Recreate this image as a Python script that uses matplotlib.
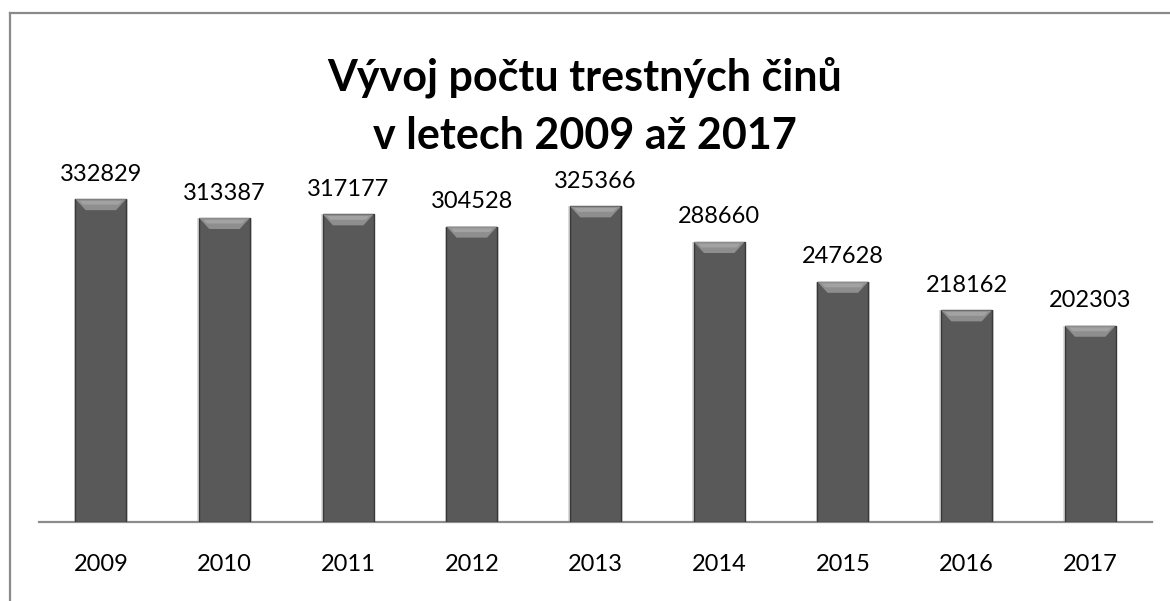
import matplotlib.pyplot as plt
from matplotlib.lines import Line2D
from matplotlib.patches import Polygon

# data
years = ['2009', '2010', '2011', '2012', '2013', '2014', '2015', '2016', '2017']
crimes = [332829, 313387, 317177, 304528, 325366, 288660, 247628, 218162, 202303]

plt.rcParams['font.family'] = ['Lato', 'DejaVu Sans']

fig = plt.figure(figsize=(11.7, 6.01), dpi=100)
ax = fig.add_axes([39 / 1170, 1 - 522 / 601, (1152 - 39) / 1170, (522 - 150) / 601])

x = range(len(years))
bars = ax.bar(x, crimes, width=0.41, color='#595959', edgecolor='#383838',
              linewidth=1.0, zorder=3)

ymax = 383500
ax.set_ylim(0, ymax)
ax.set_xlim(-0.5, len(years) - 0.5)

# bevel on top of each bar, sized in pixels
px = ymax / (522 - 150)
for b in bars:
    x0, w, h = b.get_x(), b.get_width(), b.get_height()
    bev = 11 * px
    inset = w * 0.2
    ax.add_patch(Polygon([(x0, h), (x0 + w, h), (x0 + w - inset, h - bev), (x0 + inset, h - bev)],
                         closed=True, facecolor='#8e8e8e', edgecolor='none', zorder=4))
    ax.add_patch(Polygon([(x0 + w * 0.08, h - bev * 0.15), (x0 + w * 0.92, h - bev * 0.15),
                          (x0 + w * 0.85, h - bev * 0.5), (x0 + w * 0.15, h - bev * 0.5)],
                         closed=True, facecolor='#a2a2a2', edgecolor='none', zorder=5))
    # soft shadow
    ax.bar(x0 + w / 2, h, width=w + 0.03, color='#dcdcdc', linewidth=0, zorder=2)

for xi, v in zip(x, crimes):
    ax.annotate(str(v), (xi, v), xytext=(0, 18), textcoords='offset points',
                ha='center', va='center', fontsize=17, color='black')

ax.set_xticks(list(x))
ax.set_xticklabels(years, fontsize=17)
ax.tick_params(axis='x', length=0, pad=23)
ax.set_yticks([])
for s in ['top', 'right', 'left']:
    ax.spines[s].set_visible(False)
ax.spines['bottom'].set_color('#8c8c8c')
ax.spines['bottom'].set_linewidth(1.6)

fig.text(0.5, 1 - 77 / 601, 'Vývoj počtu trestných činů', ha='center', va='center',
         fontsize=31, fontweight='bold')
fig.text(0.5, 1 - 136 / 601, 'v letech 2009 až 2017', ha='center', va='center',
         fontsize=31, fontweight='bold')

# chart frame (left and top edges visible)
fig.add_artist(Line2D([9.5 / 1170, 9.5 / 1170], [0, 1 - 13 / 601], transform=fig.transFigure,
                      color='#8a8a8a', linewidth=1.6))
fig.add_artist(Line2D([9.5 / 1170, 1], [1 - 13 / 601, 1 - 13 / 601], transform=fig.transFigure,
                      color='#8a8a8a', linewidth=1.6))

fig.savefig('out.png', dpi=100)
